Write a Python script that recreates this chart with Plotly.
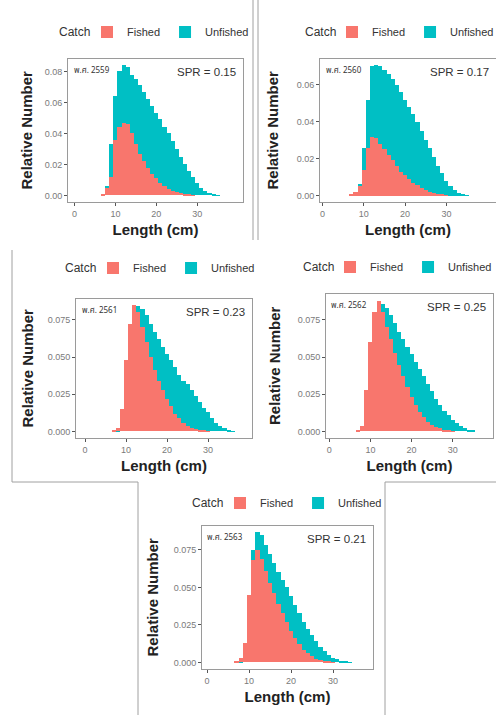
import plotly.graph_objects as go

W, H = 496, 715

length_mids = list(range(6, 37))  # 6..36 cm

fished_2559 = [0, 0.001, 0.005, 0.012, 0.036, 0.044, 0.047, 0.046, 0.040, 0.033, 0.027, 0.022, 0.018, 0.014,
               0.011, 0.008, 0.006, 0.0045, 0.003, 0.002, 0.0013, 0.0008, 0.0004, 0.0002, 0, 0, 0, 0, 0, 0, 0]
unfished_2559 = [0, 0.001, 0.006, 0.033, 0.064, 0.080, 0.084, 0.083, 0.078, 0.075, 0.071, 0.067, 0.062, 0.058,
                 0.053, 0.049, 0.044, 0.040, 0.035, 0.030, 0.025, 0.020, 0.016, 0.012, 0.008, 0.005, 0.003,
                 0.0015, 0.0006, 0.0002, 0]

fished_2560 = [0, 0.0005, 0.002, 0.005, 0.014, 0.026, 0.032, 0.031, 0.028, 0.025, 0.022, 0.019, 0.016, 0.013,
               0.011, 0.009, 0.007, 0.0055, 0.004, 0.003, 0.002, 0.0013, 0.0008, 0.0004, 0.0002, 0, 0, 0, 0, 0, 0]
unfished_2560 = [0, 0.0005, 0.002, 0.006, 0.026, 0.052, 0.070, 0.0705, 0.070, 0.068, 0.066, 0.063, 0.060, 0.056,
                 0.052, 0.048, 0.044, 0.040, 0.035, 0.030, 0.026, 0.021, 0.016, 0.012, 0.008, 0.005, 0.003,
                 0.0015, 0.0006, 0.0002, 0]

fished_2561 = [0, 0.0005, 0.002, 0.015, 0.048, 0.072, 0.085, 0.080, 0.070, 0.060, 0.050, 0.041, 0.034, 0.028,
               0.022, 0.017, 0.012, 0.009, 0.006, 0.004, 0.0025, 0.0015, 0.0008, 0.0004, 0.0002, 0, 0, 0, 0, 0, 0]
unfished_2561 = [0, 0.0003, 0.001, 0.005, 0.020, 0.045, 0.070, 0.084, 0.082, 0.078, 0.072, 0.067, 0.062, 0.057,
                 0.052, 0.048, 0.043, 0.038, 0.034, 0.032, 0.028, 0.024, 0.020, 0.016, 0.013, 0.009, 0.006,
                 0.004, 0.002, 0.001, 0.0003]

fished_2562 = [0, 0.001, 0.004, 0.028, 0.060, 0.080, 0.088, 0.080, 0.070, 0.062, 0.053, 0.045, 0.037, 0.030,
               0.023, 0.018, 0.013, 0.0095, 0.0065, 0.0045, 0.003, 0.002, 0.001, 0.0005, 0.0002, 0, 0, 0, 0, 0, 0]
unfished_2562 = [0, 0.0005, 0.002, 0.005, 0.020, 0.050, 0.075, 0.086, 0.083, 0.078, 0.073, 0.067, 0.062, 0.057,
                 0.052, 0.047, 0.042, 0.037, 0.032, 0.027, 0.022, 0.018, 0.014, 0.011, 0.008, 0.0055, 0.0035,
                 0.002, 0.001, 0.0004, 0]

fished_2563 = [0, 0.001, 0.003, 0.013, 0.045, 0.068, 0.075, 0.069, 0.061, 0.053, 0.046, 0.039, 0.033, 0.027,
               0.021, 0.016, 0.012, 0.0085, 0.006, 0.004, 0.0025, 0.0015, 0.0008, 0.0004, 0.0002, 0, 0, 0, 0, 0, 0]
unfished_2563 = [0, 0.0005, 0.001, 0.008, 0.040, 0.075, 0.087, 0.085, 0.078, 0.072, 0.066, 0.060, 0.055, 0.050,
                 0.044, 0.038, 0.033, 0.027, 0.022, 0.018, 0.014, 0.010, 0.0075, 0.005, 0.003, 0.002, 0.001,
                 0.0005, 0.0002, 0, 0]

year_labels = ["พ.ศ. 2559", "พ.ศ. 2560", "พ.ศ. 2561", "พ.ศ. 2562", "พ.ศ. 2563"]
spr_labels = ["SPR = 0.15", "SPR = 0.17", "SPR = 0.23", "SPR = 0.25", "SPR = 0.21"]
series_names = ["Fished", "Unfished"]
legend_title = "Catch"
x_title = "Length (cm)"
y_title = "Relative Number"
x_ticks = [0, 10, 20, 30]
y_ticks_small = [0.00, 0.02, 0.04, 0.06, 0.08]
y_ticks_large = [0.000, 0.025, 0.050, 0.075]

FISHED = "#F8766D"
UNFISHED = "#00BFC4"
FONT = "Liberation Sans, Arial, sans-serif"

fished_all = [fished_2559, fished_2560, fished_2561, fished_2562, fished_2563]
unfished_all = [unfished_2559, unfished_2560, unfished_2561, unfished_2562, unfished_2563]

# cx: left of "Catch" label, kx: left of first legend key, ly: legend centre line
panels = [
    dict(l=68, r=243, t=59, b=202, xr=[-1.6, 41.2], yr=[-0.0042, 0.088], fmt=".2f", yt=y_ticks_small,
         cx=57, kx=100, ly=32, ytx=26),
    dict(l=320, r=496, t=59, b=202, xr=[-0.6, 42.0], yr=[-0.0035, 0.074], fmt=".2f", yt=y_ticks_small[:4],
         cx=303, kx=345, ly=32, ytx=272),
    dict(l=76, r=252, t=299, b=438, xr=[-2.2, 40.7], yr=[-0.0044, 0.089], fmt=".3f", yt=y_ticks_large,
         cx=63, kx=106, ly=268, ytx=27),
    dict(l=326, r=493, t=294, b=438, xr=[-0.8, 39.8], yr=[-0.0044, 0.0924], fmt=".3f", yt=y_ticks_large,
         cx=301, kx=343, ly=267, ytx=274),
    dict(l=202, r=373, t=526, b=669, xr=[-1.2, 39.5], yr=[-0.0044, 0.091], fmt=".3f", yt=y_ticks_large,
         cx=190, kx=233, ly=503, ytx=152),
]


def px(x):
    return x / W


def py(y):
    return 1 - y / H


fig = go.Figure()
layout = {}
annotations = []

for i, p in enumerate(panels):
    n = i + 1
    xa = "x" if n == 1 else f"x{n}"
    ya = "y" if n == 1 else f"y{n}"
    lg = "legend" if n == 1 else f"legend{n}"
    fig.add_trace(go.Bar(x=length_mids, y=unfished_all[i], width=1.0, name=series_names[1],
                         marker=dict(color=UNFISHED, line=dict(width=0)),
                         xaxis=xa, yaxis=ya, legend=lg, legendrank=2))
    fig.add_trace(go.Bar(x=length_mids, y=fished_all[i], width=1.0, name=series_names[0],
                         marker=dict(color=FISHED, line=dict(width=0)),
                         xaxis=xa, yaxis=ya, legend=lg, legendrank=1))
    axis_common = dict(showgrid=False, zeroline=False, showline=True, mirror=True, linecolor="#9a9a9a",
                       linewidth=1, ticks="outside", ticklen=3, tickcolor="#555",
                       tickfont=dict(family=FONT, size=9, color="#7a7a7a"))
    layout["xaxis" if n == 1 else f"xaxis{n}"] = dict(
        domain=[px(p["l"]), px(p["r"])], range=p["xr"], tickvals=x_ticks, anchor=ya,
        title=dict(text=f"<b>{x_title}</b>", font=dict(family=FONT, size=15, color="#222"), standoff=6),
        **axis_common)
    layout["yaxis" if n == 1 else f"yaxis{n}"] = dict(
        domain=[py(p["b"]), py(p["t"])], range=p["yr"], tickvals=p["yt"], tickformat=p["fmt"], anchor=xa,
        **axis_common)
    layout[lg] = dict(orientation="h", x=px(p["kx"] - 13), y=py(p["ly"]), xanchor="left", yanchor="middle",
                      font=dict(family=FONT, size=11, color="#333"), bgcolor="rgba(0,0,0,0)",
                      traceorder="normal", itemwidth=30, tracegroupgap=0)
    annotations.append(dict(text=legend_title, x=px(p["cx"]), y=py(p["ly"]), xref="paper", yref="paper",
                            xanchor="left", yanchor="middle", showarrow=False,
                            font=dict(family=FONT, size=12, color="#333")))
    annotations.append(dict(text=f"<b>{y_title}</b>", x=px(p["ytx"]), y=py((p["t"] + p["b"]) / 2),
                            xref="paper", yref="paper", textangle=-90, showarrow=False,
                            xanchor="center", yanchor="middle",
                            font=dict(family=FONT, size=15, color="#222")))
    annotations.append(dict(text=year_labels[i], x=0.02, y=0.97, xref=f"{xa} domain", yref=f"{ya} domain",
                            xanchor="left", yanchor="top", showarrow=False,
                            font=dict(family="Noto Sans Thai, Loma, Garuda, Liberation Sans, sans-serif",
                                      size=8, color="#333")))
    annotations.append(dict(text=spr_labels[i], x=0.97, y=0.965, xref=f"{xa} domain", yref=f"{ya} domain",
                            xanchor="right", yanchor="top", showarrow=False,
                            font=dict(family=FONT, size=11.5, color="#333")))

line_col = "#a0a0a0"


def seg(x0, y0, x1, y1):
    return dict(type="line", x0=px(x0), x1=px(x1), y0=py(y0), y1=py(y1), xref="paper", yref="paper",
                line=dict(color=line_col, width=1))


shapes = [
    seg(253, 0, 253, 240),
    seg(258, 0, 258, 240),
    seg(12, 250, 12, 482),
    seg(12, 482, 138, 482),
    seg(385, 482, 496, 482),
    seg(138, 482, 138, 715),
    seg(385, 482, 385, 715),
]

fig.update_layout(width=W, height=H, margin=dict(l=0, r=0, t=0, b=0, autoexpand=False),
                  barmode="overlay", bargap=0,
                  plot_bgcolor="white", paper_bgcolor="white", showlegend=True,
                  annotations=annotations, shapes=shapes, **layout)

fig.write_html("out.html")
